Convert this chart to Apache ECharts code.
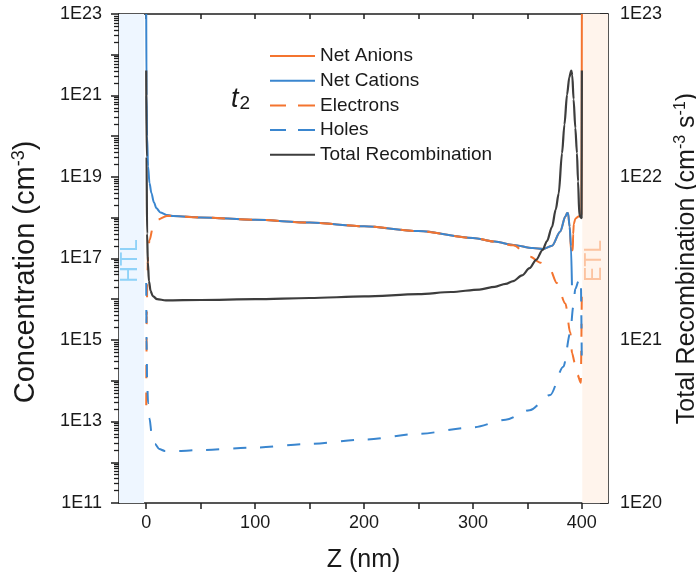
<!DOCTYPE html>
<html>
<head>
<meta charset="utf-8">
<script src="https://cdn.jsdelivr.net/npm/echarts@6/dist/echarts.min.js"></script>
<style>
html,body{margin:0;padding:0;background:#fff;}
#chart{width:696px;height:580px;}
</style>
</head>
<body>
<div id="chart"></div>
<script>
// ---------- data ----------
// Net Cations (cm^-3) vs Z (nm)
const cationsZ = [0, 0.3, 0.8, 1.7, 3, 4.8, 7, 9.4, 13, 18.6, 25, 50, 100, 150, 200, 250, 300, 320, 337, 355, 364.4, 372.6, 380.2, 384.8, 386.5, 387.3, 388.8, 390.0, 390.9];
const cationsN = [1e23, 1e21, 1e20, 1.8e19, 7.1e18, 4.0e18, 2.4e18, 1.7e18, 1.35e18, 1.17e18, 1.1e18, 1.02e18, 8.9e17, 7.6e17, 6.2e17, 4.7e17, 3.2e17, 2.6e17, 2.15e17, 1.8e17, 1.7e17, 2.05e17, 4.6e17, 1.07e18, 1.3e18, 1.3e18, 6.0e17, 2.0e17, 2.2e16];
// Net Anions
const anionsZ = [18.6, 25, 50, 100, 150, 200, 250, 300, 320, 337, 355, 364.4, 372.6, 380.2, 384.8, 386.5, 387.3, 388.8, 390.0, 391.7, 392.0, 392.6, 394, 397, 399.6, 400];
const anionsN = [1.17e18, 1.1e18, 1.02e18, 8.9e17, 7.6e17, 6.2e17, 4.7e17, 3.2e17, 2.6e17, 2.15e17, 1.8e17, 1.7e17, 2.05e17, 4.6e17, 1.07e18, 1.3e18, 1.3e18, 6.0e17, 1.6e17, 1.6e17, 4.0e17, 7.0e17, 9.5e17, 1.07e18, 1.2e18, 1e23];
// Electrons
const electronsZ = [0, 0.2, 0.5, 1, 1.7, 3, 6.2, 10, 19, 50, 100, 150, 200, 250, 300, 320, 337, 352.6, 362, 371, 377, 384.8, 389.4, 391, 393.4, 396, 399, 400];
const electronsN = [2.5e13, 3.2e14, 4e15, 3.2e16, 1.35e17, 2.8e17, 6.0e17, 8.9e17, 1.1e18, 1.02e18, 8.9e17, 7.6e17, 6.2e17, 4.7e17, 3.2e17, 2.6e17, 2.1e17, 1.1e17, 7.9e16, 5.2e16, 2.5e16, 7.9e15, 1.5e15, 4.8e14, 2.8e14, 1.4e14, 8.9e13, 2e16];
// Holes
const holesZ = [0, 0.3, 0.8, 1.7, 3, 5, 8, 12, 17, 30, 50, 100, 148, 200, 250, 300, 330, 352, 371, 383, 389.4, 392, 394, 397, 399, 400];
const holesN = [2.5e16, 1e15, 1e14, 2.8e13, 1.2e13, 5e12, 2.8e12, 2.1e12, 1.9e12, 1.9e12, 2e12, 2.3e12, 2.8e12, 3.6e12, 5e12, 7.2e12, 1.1e13, 1.9e13, 4.5e13, 2.2e14, 1.5e15, 6.3e15, 1.8e16, 2.8e16, 3.2e16, 2e14];
// Total Recombination (cm^-3 s^-1), right axis
const recombZ = [0, 0.3, 0.8, 1.5, 2.5, 4, 6, 10, 18, 50, 100, 150, 200, 250, 280, 306, 320, 330, 337, 345, 352, 358, 364, 368, 372.6, 376, 378.7, 381.8, 384, 386.4, 388.5, 390.3, 391.2, 392.4, 394, 395.5, 396.5, 397.7, 399.7, 400];
const recombR = [4.5e22, 1.33e22, 4.5e21, 3.0e21, 2.3e21, 2.0e21, 1.86e21, 1.78e21, 1.75e21, 1.76e21, 1.78e21, 1.81e21, 1.85e21, 1.91e21, 1.97e21, 2.04e21, 2.12e21, 2.21e21, 2.3e21, 2.49e21, 2.76e21, 3.1e21, 3.57e21, 4.05e21, 4.95e21, 6.3e21, 7.9e21, 1.4e22, 2.1e22, 3.2e22, 4.1e22, 4.5e22, 4.2e22, 3.0e22, 2.0e22, 1.4e22, 9.4e21, 5.8e21, 5.6e21, 4.5e22];

// axis ticks / labels
const xTickValues = [0, 50, 100, 150, 200, 250, 300, 350, 400];
const xLabelValues = [0, 100, 200, 300, 400];
const leftLabelExp = [11, 13, 15, 17, 19, 21, 23];
const rightLabelExp = [20, 21, 22, 23];
const seriesNames = ['Net Anions', 'Net Cations', 'Electrons', 'Holes', 'Total Recombination'];

// ---------- helpers ----------
const pairs = (xs, ys) => xs.map((x, i) => [x, ys[i]]);
const dec = e => Number('1e' + e);
// the top decade is shrunk by a hair so float rounding keeps it inside the axis extent
const decIn = (e, top) => e === top ? dec(e) * (1 - 1e-9) : dec(e);
function decades(a, b) { const r = []; for (let e = a; e <= b; e++) r.push(decIn(e, b)); return r; }
function minors(a, b) { const r = []; for (let e = a; e < b; e++) for (let k = 2; k <= 9; k++) r.push(k * dec(e)); return r; }
const expLabel = v => '1E' + Math.round(Math.log10(v));

const ORANGE = '#f4742f', BLUE = '#3a86cf', DARK = '#3d3d3d', AX = '#1e1e1e', TXT = '#1a1a1a';
const FONT = '"Liberation Sans", Arial, sans-serif';
const DASH = [13, 14];
const ICON_SOLID = 'path://M0,0H45V2H0Z';
const ICON_DASH = 'path://M0,0H16V2H0Z M28,0H45V2H28Z';

const chart = echarts.init(document.getElementById('chart'), null, {renderer: 'canvas'});

const axLine = {show: true, onZero: false, lineStyle: {color: AX, width: 1.5}};
const noLine = {show: false, onZero: false};
const supRich = {sup: {fontSize: 16, fontFamily: FONT, color: TXT, padding: [0, 0, 12, 0]}};

const lineCommon = {type: 'line', xAxisIndex: 0, showSymbol: false, symbol: 'none', smooth: 0.3, smoothMonotone: 'x'};

const option = {
  animation: false,
  backgroundColor: '#fff',
  textStyle: {fontFamily: FONT},
  grid: {left: 119, right: 88, top: 14, bottom: 77, containLabel: false, outerBoundsMode: 'none'},
  legend: {
    orient: 'vertical', left: 270, top: 46.5, padding: 0,
    itemWidth: 45, itemHeight: 2, itemGap: 5.7, symbolKeepAspect: false,
    data: [
      {name: 'Net Anions', icon: ICON_SOLID},
      {name: 'Net Cations', icon: ICON_SOLID},
      {name: 'Electrons', icon: ICON_DASH},
      {name: 'Holes', icon: ICON_DASH},
      {name: 'Total Recombination', icon: ICON_SOLID}
    ],
    textStyle: {fontSize: 19, color: TXT, fontFamily: FONT, lineHeight: 19},
    selectedMode: false
  },
  xAxis: [{
    type: 'value', min: -25, max: 424, position: 'bottom',
    axisLine: axLine,
    axisTick: {show: true, inside: false, length: 6, customValues: xTickValues, lineStyle: {color: AX, width: 1.5}},
    axisLabel: {customValues: xLabelValues, fontSize: 18, color: TXT, margin: 11, fontFamily: FONT},
    splitLine: {show: false},
    name: 'Z (nm)', nameLocation: 'middle', nameGap: 45,
    nameTextStyle: {fontSize: 25, color: TXT, fontFamily: FONT}
  }, {
    type: 'value', min: -25, max: 424, position: 'top',
    axisLine: axLine,
    axisTick: {show: true, inside: true, length: 5, customValues: xTickValues, lineStyle: {color: AX, width: 1.5}},
    axisLabel: {show: false},
    splitLine: {show: false}
  }],
  yAxis: [{
    type: 'log', logBase: 10, min: 1e11, max: 1e23, position: 'left',
    axisLine: axLine,
    axisTick: {show: true, inside: false, length: 8, customValues: decades(11, 23), lineStyle: {color: AX, width: 1.5}},
    axisLabel: {customValues: leftLabelExp.map(e => decIn(e, 23)), formatter: expLabel, fontSize: 18, color: TXT, margin: 17, fontFamily: FONT},
    splitLine: {show: false}
  }, {
    type: 'log', logBase: 10, min: 1e11, max: 1e23, position: 'left',
    axisLine: noLine,
    axisTick: {show: true, inside: false, length: 5, customValues: minors(11, 23), lineStyle: {color: AX, width: 1.3}},
    axisLabel: {show: false},
    splitLine: {show: false}
  }, {
    type: 'log', logBase: 10, min: 1e20, max: 1e23, position: 'right',
    axisLine: axLine,
    axisTick: {show: true, inside: true, length: 8, customValues: decades(20, 23), lineStyle: {color: AX, width: 1.5}},
    axisLabel: {customValues: rightLabelExp.map(e => decIn(e, 23)), formatter: expLabel, fontSize: 18, color: TXT, margin: 12, fontFamily: FONT},
    splitLine: {show: false},
    name: 'Total Recombination (cm{sup|-3} s{sup|-1})', nameLocation: 'middle', nameGap: 62,
    nameTextStyle: {fontSize: 25, color: TXT, fontFamily: FONT, rich: supRich}
  }, {
    type: 'log', logBase: 10, min: 1e20, max: 1e23, position: 'right',
    axisLine: noLine,
    axisTick: {show: true, inside: true, length: 5, customValues: minors(20, 23), lineStyle: {color: AX, width: 1.5}},
    axisLabel: {show: false},
    splitLine: {show: false}
  }],
  graphic: [
    {type: 'text', x: 26, y: 272, rotation: Math.PI / 2, z: 5,
     style: {text: 'Concentration (cm{sup|-3})', fontSize: 29, fontFamily: FONT, fill: TXT, align: 'center', verticalAlign: 'middle',
       rich: {sup: {fontSize: 18, fontFamily: FONT, fill: TXT, padding: [0, 0, 14, 0]}}}},
    {type: 'text', x: 131, y: 261, rotation: Math.PI / 2, z: 2,
     style: {text: 'HTL', fontSize: 23, fontFamily: FONT, fill: '#8fd2f8', align: 'center', verticalAlign: 'middle'}},
    {type: 'text', x: 595, y: 261, rotation: Math.PI / 2, z: 2,
     style: {text: 'ETL', fontSize: 23, fontFamily: FONT, fill: '#fcc3a0', align: 'center', verticalAlign: 'middle'}},
    {type: 'text', left: 231, top: 86, z: 5,
     style: {text: '{t|t}{s|2}', rich: {
       t: {fontSize: 27, fontStyle: 'italic', fontFamily: FONT, fill: TXT, padding: [0, 1, 9, 0]},
       s: {fontSize: 19, fontFamily: FONT, fill: TXT}
     }}}
  ],
  series: [
    Object.assign({}, lineCommon, {name: 'Net Anions', yAxisIndex: 0,
     data: pairs(anionsZ, anionsN), lineStyle: {color: ORANGE, width: 2}, itemStyle: {color: ORANGE},
     markArea: {silent: true, data: [
       [{xAxis: -25, yAxis: 1e11, itemStyle: {color: '#eef6ff'}}, {xAxis: -2, yAxis: 1e23}],
       [{xAxis: 400.4, yAxis: 1e11, itemStyle: {color: '#fff4ec'}}, {xAxis: 424, yAxis: 1e23}]
     ]}}),
    Object.assign({}, lineCommon, {name: 'Net Cations', yAxisIndex: 0,
     data: pairs(cationsZ, cationsN), lineStyle: {color: BLUE, width: 2}, itemStyle: {color: BLUE}}),
    Object.assign({}, lineCommon, {name: 'Electrons', yAxisIndex: 0,
     data: pairs(electronsZ, electronsN), lineStyle: {color: ORANGE, width: 2, type: DASH}, itemStyle: {color: ORANGE}}),
    Object.assign({}, lineCommon, {name: 'Holes', yAxisIndex: 0,
     data: pairs(holesZ, holesN), lineStyle: {color: BLUE, width: 2, type: DASH}, itemStyle: {color: BLUE}}),
    Object.assign({}, lineCommon, {name: 'Total Recombination', yAxisIndex: 2,
     data: pairs(recombZ, recombR), lineStyle: {color: DARK, width: 2.2}, itemStyle: {color: DARK}})
  ]
};
chart.setOption(option);
</script>
</body>
</html>
